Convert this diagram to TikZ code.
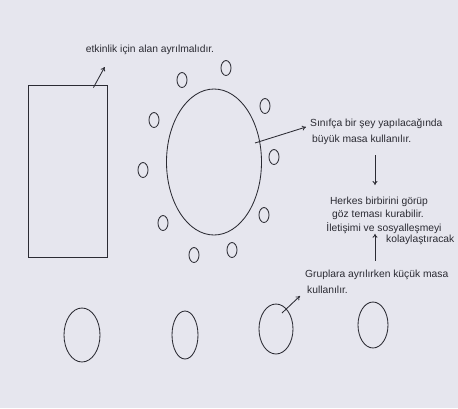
\documentclass[tikz,border=0pt]{standalone}
\usepackage{fontspec}
\setmainfont{Liberation Sans}
\usetikzlibrary{shapes.geometric,arrows.meta,calc}
\definecolor{paper}{HTML}{E6E6EE}
\definecolor{ink}{HTML}{2B2B33}
\begin{document}
\begin{tikzpicture}[x=1pt,y=-1pt,
  pen/.style={draw=ink,line width=0.85pt},
  chair/.style={pen,ellipse,inner sep=0pt,minimum width=10pt,minimum height=15pt},
  gtable/.style={pen,ellipse,inner sep=0pt},
  note/.style={text=ink,font=\fontsize{10.3}{12}\selectfont,inner sep=0pt},
  arr/.style={pen,-{To[length=4pt,width=5pt]}}]
\fill[paper] (0,0) rectangle (458,408);
\useasboundingbox (0,0) rectangle (458,408);
% activity area
\node[pen,minimum width=79pt,minimum height=172pt,inner sep=0pt] (area) at (67.5,171) {};
% big table
\node[gtable,minimum width=95pt,minimum height=146pt] (big) at (214,162) {};
% chairs
\node[chair] (c1) at (226,68) {};
\node[chair] (c2) at (182,80) {};
\node[chair] (c3) at (265,106) {};
\node[chair] (c4) at (154,120) {};
\node[chair] (c5) at (274,157) {};
\node[chair] (c6) at (143,170) {};
\node[chair] (c7) at (264,215) {};
\node[chair] (c8) at (163,223) {};
\node[chair] (c9) at (194,255) {};
\node[chair] (c10) at (232,250) {};
% small tables
\node[gtable,minimum width=36pt,minimum height=54pt] (s1) at (82,335) {};
\node[gtable,minimum width=26pt,minimum height=48pt] (s2) at (185,335) {};
\node[gtable,minimum width=34pt,minimum height=50pt] (s3) at (276,329) {};
\node[gtable,minimum width=30pt,minimum height=46pt] (s4) at (373,325) {};
% texts
\node[note] (t1) at (150,50) {etkinlik için alan ayrılmalıdır.};
\node[note,anchor=west] (t2a) at (310,124) {Sınıfça bir şey yapılacağında};
\node[note,anchor=west] (t2b) at (312,140) {büyük masa kullanılır.};
\node[note] (t3a) at (379,202) {Herkes birbirini görüp};
\node[note] (t3b) at (378,215) {göz teması kurabilir.};
\node[note] (t3c) at (384,228) {İletişimi ve sosyalleşmeyi};
\node[note,anchor=west] (t3d) at (386,240) {kolaylaştıracak};
\node[note,anchor=west] (t4a) at (305,275) {Gruplara ayrılırken küçük masa};
\node[note,anchor=west] (t4b) at (307,290) {kullanılır.};
% connectors
\coordinate (a1s) at ($(area.north east)+(-14,3)$);
\coordinate (a1e) at ($(t1.south west)+(19,12)$);
\draw[arr] (a1s) -- (a1e);
\coordinate (a2s) at ($(big.center)+(41,-19)$);
\draw[arr] (a2s) -- ($(t2a.west)+(-4,3)$);
\draw[arr] ($(t2b.south west)+(63,10)$) -- ($(t3a.north)+(-4,-12)$);
\coordinate (a4s) at ($(t4a.north west)+(70,-9)$);
\draw[arr] (a4s) -- ($(t3c.south)+(-9,0)$);
\coordinate (a5s) at ($(s3.center)+(6,-16)$);
\draw[arr] (a5s) -- ($(t4b.south west)+(-7,2)$);
\end{tikzpicture}
\end{document}
